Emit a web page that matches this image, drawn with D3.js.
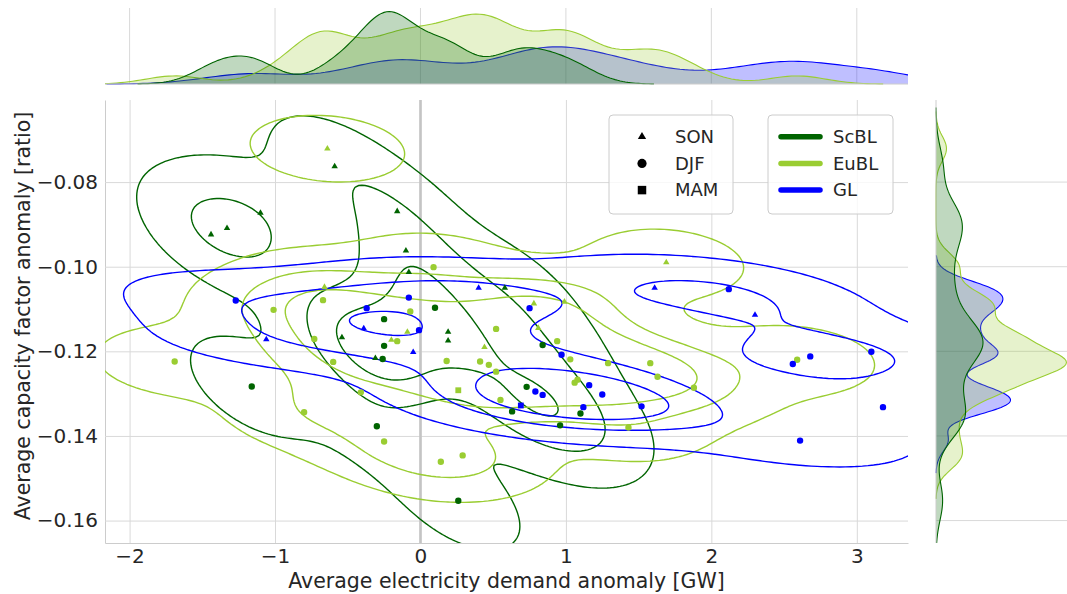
<!DOCTYPE html>
<html>
<head>
<meta charset="utf-8">
<script src="https://cdn.jsdelivr.net/npm/d3@7"></script>
<style>
  body { margin: 0; background: #fff; }
  text { font-family: "DejaVu Sans", sans-serif; fill: #262626; }
</style>
</head>
<body>
<div id="chart"></div>
<script>
// groups, colours, seasons
var groups = ["ScBL", "EuBL", "GL"];
var colors = ["#006400", "#9acd32", "#0000ff"];
var seasons = ["SON", "DJF", "MAM"];

// [demand anomaly (GW), capacity factor anomaly (ratio), season]
var scbl = [
  [-0.59, -0.0763, "SON"], [-1.10, -0.0873, "SON"], [-1.33, -0.0909, "SON"],
  [-1.44, -0.0924, "SON"], [-0.16, -0.0869, "SON"], [-0.10, -0.0962, "SON"],
  [-0.08, -0.1013, "SON"], [0.58, -0.1050, "SON"], [-0.54, -0.1167, "SON"],
  [0.19, -0.1154, "SON"], [0.19, -0.1175, "SON"], [-0.31, -0.1216, "SON"],
  [0.10, -0.1097, "DJF"], [-0.25, -0.1124, "DJF"], [-0.25, -0.1187, "DJF"],
  [-0.26, -0.1218, "DJF"], [-1.16, -0.1283, "DJF"], [-0.30, -0.1377, "DJF"],
  [0.84, -0.1185, "DJF"], [0.73, -0.1284, "DJF"], [0.63, -0.1342, "DJF"],
  [1.10, -0.1347, "DJF"], [0.96, -0.1375, "DJF"], [0.26, -0.1553, "DJF"]
];
var eubl = [
  [-0.64, -0.0721, "SON"], [-0.66, -0.1048, "SON"], [1.69, -0.0990, "SON"],
  [0.78, -0.1087, "SON"], [0.99, -0.1083, "SON"], [0.81, -0.1145, "SON"],
  [0.44, -0.1190, "SON"], [-0.09, -0.1154, "SON"], [-0.20, -0.1173, "SON"],
  [-1.01, -0.1102, "DJF"], [-0.67, -0.1079, "DJF"], [-0.07, -0.1106, "DJF"],
  [0.09, -0.1001, "DJF"], [-1.69, -0.1224, "DJF"], [-0.73, -0.1171, "DJF"],
  [-0.60, -0.1225, "DJF"], [-0.41, -0.1297, "DJF"], [-0.80, -0.1344, "DJF"],
  [-0.16, -0.1176, "DJF"], [0.18, -0.1223, "DJF"], [-0.25, -0.1413, "DJF"],
  [0.14, -0.1461, "DJF"], [0.29, -0.1446, "DJF"], [0.52, -0.1147, "DJF"],
  [0.94, -0.1176, "DJF"], [1.03, -0.1219, "DJF"], [1.29, -0.1228, "DJF"],
  [0.41, -0.1224, "DJF"], [0.47, -0.1232, "DJF"], [0.52, -0.1248, "DJF"],
  [0.55, -0.1315, "DJF"], [1.08, -0.1267, "DJF"], [1.06, -0.1274, "DJF"],
  [1.43, -0.1380, "DJF"], [1.58, -0.1228, "DJF"], [1.63, -0.1260, "DJF"],
  [1.88, -0.1286, "DJF"], [2.59, -0.1220, "DJF"], [0.26, -0.1292, "MAM"]
];
var gl = [
  [0.40, -0.1050, "SON"], [1.61, -0.1050, "SON"], [2.30, -0.1114, "SON"],
  [-1.06, -0.1172, "SON"], [-0.39, -0.1146, "SON"], [-0.05, -0.1202, "SON"],
  [-1.27, -0.1080, "DJF"], [-0.37, -0.1098, "DJF"], [-0.08, -0.1073, "DJF"],
  [-0.01, -0.1150, "DJF"], [0.75, -0.1098, "DJF"], [0.97, -0.1208, "DJF"],
  [0.79, -0.1295, "DJF"], [0.84, -0.1303, "DJF"], [1.16, -0.1280, "DJF"],
  [1.25, -0.1302, "DJF"], [1.12, -0.1332, "DJF"], [1.52, -0.1330, "DJF"],
  [2.12, -0.1053, "DJF"], [2.56, -0.1230, "DJF"], [2.68, -0.1212, "DJF"],
  [3.10, -0.1201, "DJF"], [3.18, -0.1332, "DJF"], [2.61, -0.1411, "DJF"],
  [0.69, -0.1328, "MAM"]
];
var xTicks = [-2, -1, 0, 1, 2, 3];
var yTicks = [-0.16, -0.14, -0.12, -0.10, -0.08];

var sets = [scbl, eubl, gl];
var nAll = d3.sum(sets, function(s) { return s.length; });
var bwJoint = 0.75, bwMarg = 0.45;

// layout
var W = 1067, H = 594;
var m = {left: 105, right: 908, top: 100, bottom: 543};
var topM = {top: 8, bottom: 84};
var rightM = {left: 936, right: 1073};

var svg = d3.select("#chart").append("svg")
  .attr("width", W).attr("height", H);

var x = d3.scaleLinear().domain([-2.169, 3.352]).range([m.left, m.right]);
var y = d3.scaleLinear().domain([-0.1653, -0.0606]).range([m.bottom, m.top]);

function minus(s) { return String(s).replace("-", "\u2212"); }

// ---- kde helpers (scott bandwidth, densities weighted by group size) ----
function kde1d(vals) {
  var n = vals.length, bw = d3.deviation(vals) * Math.pow(n, -0.2) * bwMarg;
  var lo = d3.min(vals) - 3 * bw, hi = d3.max(vals) + 3 * bw;
  return d3.range(200).map(function(i) {
    var g = lo + (hi - lo) * i / 199;
    var s = d3.sum(vals, function(v) { var z = (g - v) / bw; return Math.exp(-0.5 * z * z); });
    return [g, s / (nAll * bw * Math.sqrt(2 * Math.PI))];
  });
}

function kde2d(pts) {
  var n = pts.length, G = 200;
  var xs = pts.map(function(p) { return p[0]; }), ys = pts.map(function(p) { return p[1]; });
  var mx = d3.mean(xs), my = d3.mean(ys), sxx = 0, syy = 0, sxy = 0;
  pts.forEach(function(p) {
    var dx = p[0] - mx, dy = p[1] - my;
    sxx += dx * dx; syy += dy * dy; sxy += dx * dy;
  });
  var f2 = Math.pow(n, -1 / 3) * bwJoint * bwJoint;
  var cxx = sxx / (n - 1) * f2, cyy = syy / (n - 1) * f2, cxy = sxy / (n - 1) * f2;
  var det = cxx * cyy - cxy * cxy;
  var ixx = cyy / det, iyy = cxx / det, ixy = -cxy / det;
  var norm = 1 / (2 * Math.PI * Math.sqrt(det) * nAll);
  var bx = Math.sqrt(cxx), by = Math.sqrt(cyy);
  var x0 = d3.min(xs) - 3 * bx, x1 = d3.max(xs) + 3 * bx;
  var y0 = d3.min(ys) - 3 * by, y1 = d3.max(ys) + 3 * by;
  var vals = new Array(G * G);
  for (var j = 0; j < G; j++) {
    var gy = y0 + (y1 - y0) * j / (G - 1);
    for (var i = 0; i < G; i++) {
      var gx = x0 + (x1 - x0) * i / (G - 1), s = 0;
      for (var k = 0; k < n; k++) {
        var dx = gx - pts[k][0], dy = gy - pts[k][1];
        s += Math.exp(-0.5 * (dx * dx * ixx + 2 * dx * dy * ixy + dy * dy * iyy));
      }
      vals[j * G + i] = s * norm;
    }
  }
  return {vals: vals, G: G, x0: x0, x1: x1, y0: y0, y1: y1};
}

// iso-proportion levels over all groups together (seaborn common_norm)
function isoLevels(vals, props) {
  var sorted = vals.slice().sort(function(a, b) { return b - a; });
  var total = d3.sum(sorted), cum = [], c = 0;
  sorted.forEach(function(v) { c += v; cum.push(c / total); });
  return props.map(function(q) {
    var idx = d3.bisectLeft(cum, 1 - q);
    return sorted[Math.min(idx, sorted.length - 1)];
  });
}
var nLevels = 4, thresh = 0.05;
var props = d3.range(nLevels - 1).map(function(i) { return thresh + (1 - thresh) * i / (nLevels - 1); });

// ---- clip paths ----
var defs = svg.append("defs");
defs.append("clipPath").attr("id", "clipMain").append("rect")
  .attr("x", m.left).attr("y", m.top).attr("width", m.right - m.left).attr("height", m.bottom - m.top);
defs.append("clipPath").attr("id", "clipTop").append("rect")
  .attr("x", m.left).attr("y", 0).attr("width", m.right - m.left).attr("height", topM.bottom + 1);
defs.append("clipPath").attr("id", "clipRight").append("rect")
  .attr("x", rightM.left - 1).attr("y", m.top).attr("width", W - rightM.left + 1).attr("height", m.bottom - m.top);

// ---- main axes ----
var gx = svg.append("g")
  .attr("transform", "translate(0," + m.bottom + ")")
  .call(d3.axisBottom(x).tickValues(xTicks).tickSizeInner(-(m.bottom - m.top)).tickSizeOuter(0).tickPadding(6)
    .tickFormat(function(d) { return minus(d); }));
gx.select(".domain").attr("stroke", "#cccccc");
gx.selectAll(".tick line").attr("stroke", "#d9d9d9");
gx.selectAll(".tick text").style("font-size", "20px").style("font-family", "DejaVu Sans").attr("fill", "#262626");

var gy = svg.append("g")
  .attr("transform", "translate(" + m.left + ",0)")
  .call(d3.axisLeft(y).tickValues(yTicks).tickSizeInner(-(m.right - m.left)).tickSizeOuter(0).tickPadding(7)
    .tickFormat(function(d) { return minus(d3.format(".2f")(d)); }));
gy.select(".domain").attr("stroke", "#cccccc");
gy.selectAll(".tick line").attr("stroke", "#d9d9d9");
gy.selectAll(".tick text").style("font-size", "20px").style("font-family", "DejaVu Sans").attr("fill", "#262626");

// vertical line at zero
svg.append("line")
  .attr("x1", x(0)).attr("x2", x(0)).attr("y1", m.top).attr("y2", m.bottom)
  .attr("stroke", "#c4c4c4").attr("stroke-width", 2.6);

svg.append("text")
  .attr("x", (m.left + m.right) / 2).attr("y", 588)
  .attr("text-anchor", "middle").style("font-size", "20.5px")
  .text("Average electricity demand anomaly [GW]");
svg.append("text")
  .attr("transform", "translate(30,316) rotate(-90)")
  .attr("text-anchor", "middle").style("font-size", "20.5px")
  .text("Average capacity factor anomaly [ratio]");

// ---- contours ----
var kdes = sets.map(kde2d);
var allVals = [];
kdes.forEach(function(k) { allVals = allVals.concat(k.vals); });
var levels = isoLevels(allVals, props);

var contourG = svg.append("g").attr("clip-path", "url(#clipMain)");
kdes.forEach(function(k, gi) {
  var polys = d3.contours().size([k.G, k.G]).thresholds(levels)(k.vals);
  var proj = d3.geoTransform({
    point: function(cx, cy) {
      var dx = k.x0 + (cx - 0.5) * (k.x1 - k.x0) / (k.G - 1);
      var dy = k.y0 + (cy - 0.5) * (k.y1 - k.y0) / (k.G - 1);
      this.stream.point(x(dx), y(dy));
    }
  });
  var path = d3.geoPath(proj);
  contourG.selectAll(null).data(polys).enter().append("path")
    .attr("d", path)
    .attr("fill", "none")
    .attr("stroke", colors[gi])
    .attr("stroke-width", 1.4);
});

// ---- scatter ----
var shapes = {SON: d3.symbolTriangle, DJF: d3.symbolCircle, MAM: d3.symbolSquare};
var sizes = {SON: 18, DJF: 32, MAM: 34};
sets.forEach(function(pts, gi) {
  svg.append("g").selectAll("path").data(pts).enter().append("path")
    .attr("transform", function(d) { return "translate(" + x(d[0]) + "," + y(d[1]) + ")"; })
    .attr("d", function(d) { return d3.symbol().type(shapes[d[2]]).size(sizes[d[2]])(); })
    .attr("fill", colors[gi]);
});

// ---- top marginal ----
var topDens = sets.map(function(pts) { return kde1d(pts.map(function(p) { return p[0]; })); });
var topMax = d3.max(topDens, function(d) { return d3.max(d, function(v) { return v[1]; }); });
var yTop = d3.scaleLinear().domain([0, topMax * 1.05]).range([topM.bottom, topM.top]);
var gTop = svg.append("g");
gTop.selectAll("line.grid").data(xTicks).enter().append("line")
  .attr("x1", function(d) { return x(d); }).attr("x2", function(d) { return x(d); })
  .attr("y1", topM.top).attr("y2", topM.bottom)
  .attr("stroke", "#d9d9d9");
var topClip = gTop.append("g").attr("clip-path", "url(#clipTop)");
[2, 1, 0].forEach(function(gi) {
  topClip.append("path").datum(topDens[gi])
    .attr("d", d3.area().x(function(d) { return x(d[0]); }).y0(topM.bottom).y1(function(d) { return yTop(d[1]); }))
    .attr("fill", colors[gi]).attr("fill-opacity", 0.25);
  topClip.append("path").datum(topDens[gi])
    .attr("d", d3.line().x(function(d) { return x(d[0]); }).y(function(d) { return yTop(d[1]); }))
    .attr("fill", "none").attr("stroke", colors[gi]).attr("stroke-width", 1.1);
});
gTop.append("line").attr("x1", m.left).attr("x2", m.right).attr("y1", topM.bottom).attr("y2", topM.bottom)
  .attr("stroke", "#cccccc");

// ---- right marginal ----
var rightDens = sets.map(function(pts) { return kde1d(pts.map(function(p) { return p[1]; })); });
var rightMax = d3.max(rightDens, function(d) { return d3.max(d, function(v) { return v[1]; }); });
var xRight = d3.scaleLinear().domain([0, rightMax * 1.05]).range([rightM.left, rightM.right]);
var gRight = svg.append("g");
gRight.selectAll("line.grid").data(yTicks).enter().append("line")
  .attr("x1", rightM.left).attr("x2", W)
  .attr("y1", function(d) { return y(d); }).attr("y2", function(d) { return y(d); })
  .attr("stroke", "#d9d9d9");
var rightClip = gRight.append("g").attr("clip-path", "url(#clipRight)");
[2, 1, 0].forEach(function(gi) {
  rightClip.append("path").datum(rightDens[gi])
    .attr("d", d3.area().y(function(d) { return y(d[0]); }).x0(rightM.left).x1(function(d) { return xRight(d[1]); }))
    .attr("fill", colors[gi]).attr("fill-opacity", 0.25);
  rightClip.append("path").datum(rightDens[gi])
    .attr("d", d3.line().y(function(d) { return y(d[0]); }).x(function(d) { return xRight(d[1]); }))
    .attr("fill", "none").attr("stroke", colors[gi]).attr("stroke-width", 1.1);
});
gRight.append("line").attr("x1", rightM.left).attr("x2", rightM.left).attr("y1", m.top).attr("y2", m.bottom)
  .attr("stroke", "#cccccc");

// ---- legends ----
var leg1 = svg.append("g").attr("transform", "translate(609,115)");
leg1.append("rect").attr("width", 124).attr("height", 99).attr("rx", 4)
  .attr("fill", "#fff").attr("fill-opacity", 0.8).attr("stroke", "#cccccc");
var legSizes = {SON: 30, DJF: 66, MAM: 72};
seasons.forEach(function(s, i) {
  leg1.append("path")
    .attr("transform", "translate(33," + (21.7 + i * 26.7) + ")")
    .attr("d", d3.symbol().type(shapes[s]).size(legSizes[s])())
    .attr("fill", "#000");
  leg1.append("text").attr("x", 66).attr("y", 21.7 + i * 26.7).attr("dy", "0.35em")
    .style("font-size", "18px").text(s);
});

var leg2 = svg.append("g").attr("transform", "translate(768,115)");
leg2.append("rect").attr("width", 125).attr("height", 99).attr("rx", 4)
  .attr("fill", "#fff").attr("fill-opacity", 0.8).attr("stroke", "#cccccc");
groups.forEach(function(g, i) {
  leg2.append("line")
    .attr("x1", 13).attr("x2", 52).attr("y1", 21.7 + i * 26.7).attr("y2", 21.7 + i * 26.7)
    .attr("stroke", colors[i]).attr("stroke-width", 5.5).attr("stroke-linecap", "round");
  leg2.append("text").attr("x", 65).attr("y", 21.7 + i * 26.7).attr("dy", "0.35em")
    .style("font-size", "18px").text(g);
});
</script>
</body>
</html>
